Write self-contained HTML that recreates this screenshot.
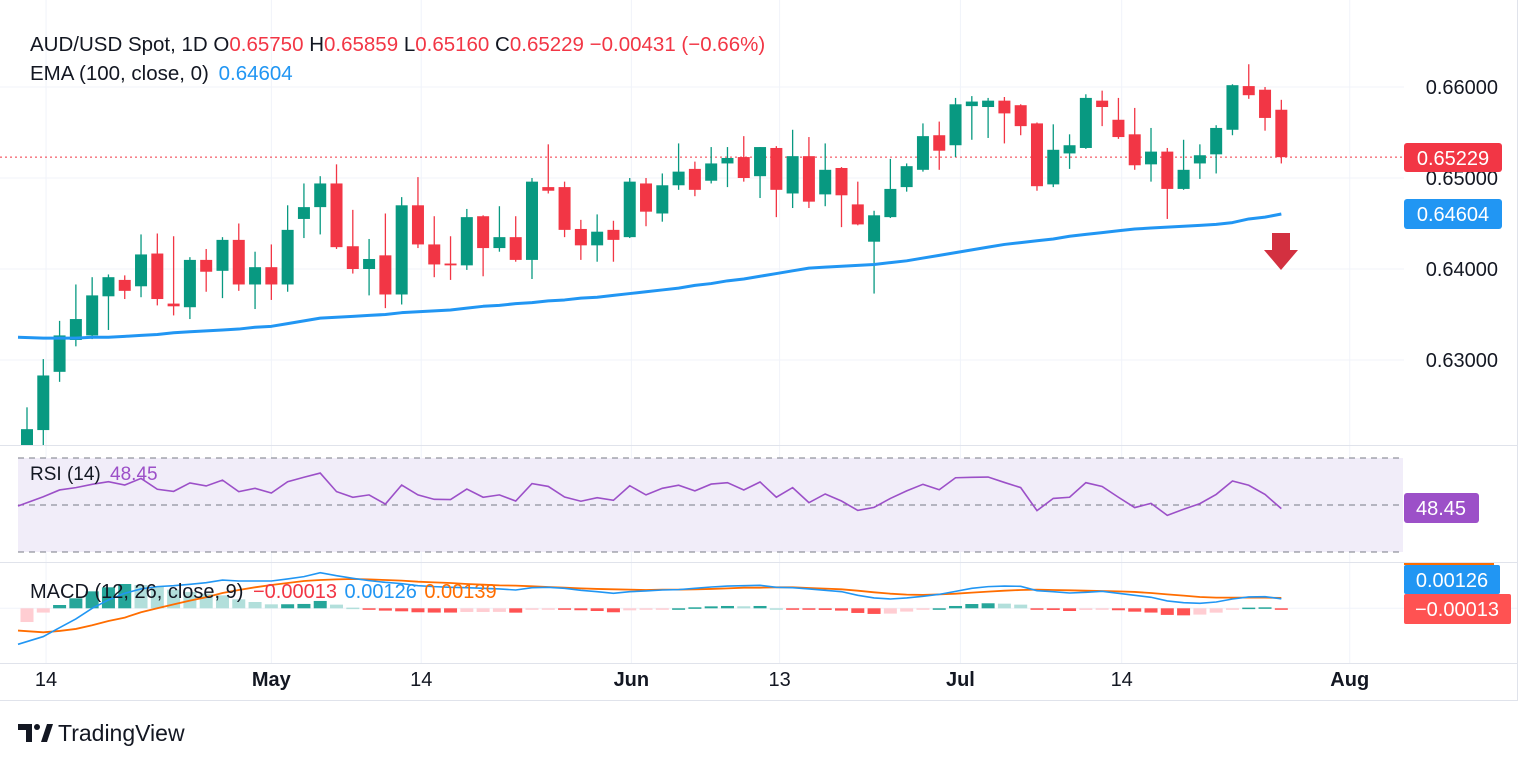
<!DOCTYPE html>
<html><head><meta charset="utf-8"><style>
html,body{margin:0;padding:0;background:#fff;}
svg{display:block;font-family:"Liberation Sans",sans-serif;}
</style></head><body>
<svg id="chart" width="1536" height="763" viewBox="0 0 1536 763" xmlns="http://www.w3.org/2000/svg">
<rect x="0" y="0" width="1536" height="763" fill="#fff"/>
<g id="grid"></g>
<rect x="18" y="458" width="1385" height="94" fill="#f1edf9"/>
<g id="rsiLines"></g>
<g id="marks"></g>
<line x1="0" y1="445.5" x2="1518" y2="445.5" stroke="#e0e3eb" stroke-width="1"/>
<line x1="0" y1="562.5" x2="1518" y2="562.5" stroke="#e0e3eb" stroke-width="1"/>
<line x1="0" y1="663.5" x2="1518" y2="663.5" stroke="#e0e3eb" stroke-width="1"/>
<line x1="1517.5" y1="0" x2="1517.5" y2="700" stroke="#e0e3eb" stroke-width="1"/>
<line x1="0" y1="700.5" x2="1518" y2="700.5" stroke="#e0e3eb" stroke-width="1"/>
<g id="axes"></g>

<text x="30" y="51" font-size="20.5" fill="#131722">AUD/USD Spot, 1D <tspan fill="#131722">O</tspan><tspan fill="#f23645">0.65750</tspan> <tspan fill="#131722">H</tspan><tspan fill="#f23645">0.65859</tspan> <tspan fill="#131722">L</tspan><tspan fill="#f23645">0.65160</tspan> <tspan fill="#131722">C</tspan><tspan fill="#f23645">0.65229 −0.00431 (−0.66%)</tspan></text>
<text x="30" y="80" font-size="20.5" fill="#131722">EMA (100, close, 0) <tspan fill="#2196f3" dx="4">0.64604</tspan></text>
<text x="30" y="480" font-size="19" fill="#131722">RSI (14) <tspan fill="#9c50c8" dx="4">48.45</tspan></text>
<text x="30" y="598" font-size="20" fill="#131722">MACD (12, 26, close, 9) <tspan fill="#f23645" dx="4">−0.00013</tspan> <tspan fill="#2196f3" dx="2">0.00126</tspan> <tspan fill="#ff6d00" dx="2">0.00139</tspan></text>

<g><rect x="1404" y="143" width="98" height="29" rx="3" fill="#f23645"/><text x="1453" y="165" font-size="20" fill="#fff" text-anchor="middle">0.65229</text></g>
<g><rect x="1404" y="199" width="98" height="30" rx="3" fill="#2196f3"/><text x="1453" y="221" font-size="20" fill="#fff" text-anchor="middle">0.64604</text></g>
<g><rect x="1404" y="493" width="75" height="30" rx="3" fill="#9c50c8"/><text x="1441" y="515" font-size="20" fill="#fff" text-anchor="middle">48.45</text></g>
<g><rect x="1404" y="563" width="90" height="2" fill="#ff6d00"/><rect x="1404" y="565" width="96" height="29" rx="2" fill="#2196f3"/><text x="1452" y="587" font-size="20" fill="#fff" text-anchor="middle">0.00126</text></g>
<g><rect x="1404" y="594" width="107" height="30" rx="2" fill="#ff5252"/><text x="1457" y="616" font-size="20" fill="#fff" text-anchor="middle">−0.00013</text></g>

<g><rect x="1272" y="233" width="18" height="18" fill="#d33040"/><polygon points="1264,250 1298,250 1281,270" fill="#d33040"/></g>

<g>
<path d="M18 724 h14 v18 h-6 v-12 h-8 z" fill="#131722"/><circle cx="37" cy="727" r="3" fill="#131722"/><polygon points="41,742 47,724 53,724 47,742" fill="#131722"/>
<text x="58" y="741" font-size="23" fill="#131722">TradingView</text></g>
</svg>
<script>
const opens=[.6206,.6223,.6287,.6322,.6327,.6370,.6388,.6381,.6417,.6362,.6358,.6410,.6398,.6432,.6383,.6402,.6383,.6455,.6468,.6494,.6425,.6400,.6415,.6372,.6470,.6427,.6406,.6404,.6458,.6423,.6435,.6410,.6490,.6490,.6444,.6426,.6443,.6435,.6494,.6461,.6492,.6510,.6497,.6516,.6523,.6502,.6533,.6483,.6524,.6482,.6511,.6471,.6430,.6457,.6490,.6509,.6547,.6536,.6579,.6578,.6585,.6580,.6560,.6493,.6527,.6533,.6585,.6564,.6548,.6515,.6529,.6488,.6516,.6526,.6553,.6601,.6597,.65750];
const highs=[.6248,.6301,.6343,.6383,.6391,.6394,.6393,.6438,.6439,.6436,.6413,.6422,.6435,.6450,.6419,.6427,.6470,.6494,.6502,.6515,.6465,.6433,.6461,.6479,.6501,.6458,.6436,.6466,.6459,.6469,.6458,.6500,.6537,.6496,.6454,.6460,.6453,.6500,.6500,.6505,.6538,.6518,.6534,.6534,.6546,.6534,.6535,.6553,.6545,.6538,.6512,.6496,.6464,.6521,.6516,.6560,.6562,.6588,.6590,.6588,.6589,.6581,.6561,.6559,.6548,.6592,.6596,.6588,.6577,.6555,.6533,.6542,.6537,.6558,.6603,.6625,.6600,.65859];
const lows=[.6200,.6200,.6276,.6315,.6323,.6333,.6367,.6369,.6360,.6349,.6345,.6375,.6368,.6376,.6356,.6366,.6375,.6434,.6438,.6422,.6395,.6371,.6357,.6361,.6423,.6391,.6388,.6399,.6392,.6419,.6408,.6389,.6483,.6435,.6410,.6408,.6408,.6434,.6447,.6452,.6487,.6480,.6494,.6490,.6496,.6478,.6457,.6467,.6467,.6469,.6446,.6448,.6373,.6456,.6485,.6507,.6509,.6523,.6542,.6544,.6538,.6547,.6486,.6490,.6510,.6532,.6557,.6543,.6509,.6496,.6455,.6487,.6499,.6505,.6547,.6587,.6552,.65160];
const closes=[.6224,.6283,.6327,.6345,.6371,.6391,.6376,.6416,.6367,.6359,.6410,.6397,.6432,.6383,.6402,.6383,.6443,.6468,.6494,.6424,.6400,.6411,.6372,.6470,.6427,.6405,.6404,.6457,.6423,.6435,.6410,.6496,.6486,.6443,.6426,.6441,.6432,.6496,.6463,.6492,.6507,.6487,.6516,.6522,.6500,.6534,.6487,.6524,.6474,.6509,.6481,.6449,.6459,.6488,.6513,.6546,.6530,.6581,.6584,.6585,.6571,.6557,.6491,.6531,.6536,.6588,.6578,.6545,.6514,.6529,.6488,.6509,.6525,.6555,.6602,.6591,.6566,.65229];
const ema100=[.6325,.6324,.6324,.6324,.6325,.6325,.6326,.6327,.6328,.6330,.6331,.6332,.6333,.6334,.6336,.6337,.6340,.6343,.6346,.6347,.6348,.6349,.6350,.6352,.6353,.6354,.6355,.6357,.6359,.6360,.6362,.6363,.6365,.6366,.6368,.6369,.6371,.6373,.6375,.6377,.6379,.6382,.6384,.6387,.6389,.6392,.6395,.6398,.6401,.6402,.6403,.6404,.6405,.6407,.6409,.6412,.6415,.6418,.6421,.6424,.6427,.6429,.6431,.6433,.6436,.6438,.6440,.6442,.6444,.6445,.6446,.6447,.6448,.6449,.6451,.6455,.6457,.64604];
const rsi=[49.6,53.5,56.4,57.4,58.8,59.9,58.5,61.3,56.7,55.8,59.4,58.1,60.6,55.7,57.1,55.1,59.9,61.8,63.6,55.7,53.3,54.3,50.4,58.5,54.3,52.4,52.3,56.8,53.3,54.3,51.7,59.1,57.9,53.4,51.6,53.1,52.0,58.2,54.3,57.1,58.4,56.0,58.9,59.5,56.4,59.8,53.3,57.4,51.0,54.7,51.7,47.7,49.0,52.8,56.0,58.8,56.5,61.6,61.8,61.9,59.6,57.4,47.6,52.8,53.3,59.5,57.9,53.3,48.9,50.7,45.6,48.2,50.6,54.5,60.2,58.4,54.5,48.45];
const macdLine=[-0.00480,-0.00377,-0.00258,-0.00142,0.00000,0.00111,0.00200,0.00258,0.00289,0.00302,0.00320,0.00342,0.00377,0.00364,0.00364,0.00364,0.00391,0.00422,0.00475,0.00435,0.00400,0.00369,0.00346,0.00329,0.00302,0.00289,0.00280,0.00275,0.00266,0.00258,0.00244,0.00275,0.00280,0.00266,0.00240,0.00222,0.00200,0.00222,0.00231,0.00244,0.00249,0.00266,0.00284,0.00297,0.00302,0.00306,0.00280,0.00275,0.00258,0.00240,0.00222,0.00173,0.00138,0.00124,0.00138,0.00160,0.00186,0.00226,0.00266,0.00289,0.00297,0.00293,0.00235,0.00222,0.00204,0.00213,0.00226,0.00200,0.00173,0.00147,0.00098,0.00075,0.00067,0.00084,0.00124,0.00151,0.00155,0.00126];
const signalLine=[-0.00297,-0.00320,-0.00302,-0.00275,-0.00226,-0.00169,-0.00124,-0.00053,0.00000,0.00053,0.00102,0.00147,0.00204,0.00244,0.00280,0.00311,0.00337,0.00364,0.00377,0.00386,0.00391,0.00386,0.00377,0.00369,0.00355,0.00346,0.00337,0.00324,0.00315,0.00306,0.00302,0.00293,0.00284,0.00275,0.00266,0.00258,0.00253,0.00249,0.00244,0.00249,0.00249,0.00253,0.00258,0.00266,0.00275,0.00275,0.00280,0.00280,0.00271,0.00262,0.00253,0.00235,0.00213,0.00195,0.00182,0.00178,0.00186,0.00195,0.00209,0.00222,0.00235,0.00244,0.00249,0.00244,0.00240,0.00235,0.00231,0.00226,0.00218,0.00204,0.00186,0.00169,0.00151,0.00142,0.00142,0.00142,0.00142,0.00139];
const priceTicks=[0.66,0.65,0.64,0.63];
const priceTickLabels=["0.66000","0.65000","0.64000","0.63000"];
const dateLabels=["14","May","14","Jun","13","Jul","14","Aug"];
const dateLabelIndex=[1.17,15,24.2,37.1,46.2,57.3,67.2,81.2];
const lastPrice=0.65229;

const NS="http://www.w3.org/2000/svg";
function el(tag,attrs,parent){const e=document.createElementNS(NS,tag);for(const k in attrs)e.setAttribute(k,attrs[k]);parent.appendChild(e);return e;}
const xOf=i=>27+i*16.29;
const yP=p=>87+(0.66-p)*9100;
const yR=v=>505-(v-50)*2.35;
const yM=v=>608.3-v*7500;
const grid=document.getElementById('grid'),marks=document.getElementById('marks'),axes=document.getElementById('axes'),rl=document.getElementById('rsiLines');

priceTicks.forEach((p,k)=>{
  const g=el('line',{x1:0,x2:1404,y1:yP(p),y2:yP(p),stroke:'#f0f3fa','stroke-width':1},grid);
  
  
  const t=el('text',{x:1498,y:yP(p)+7,'font-size':20,fill:'#131722','text-anchor':'end'},axes);
  t.textContent=priceTickLabels[k];
  
  
});
dateLabels.forEach((d,k)=>{
  const x=xOf(dateLabelIndex[k]);
  const g=el('line',{x1:x,x2:x,y1:0,y2:663,stroke:'#f0f3fa','stroke-width':1},grid);
  
  
  const t=el('text',{x:x,y:686,'font-size':20,fill:'#131722','text-anchor':'middle','font-weight':(d.length>2?'bold':'normal')},axes);
  t.textContent=d;
  
  
});
[70,50,30].forEach(v=>{
  const l=el('line',{x1:18,x2:1403,y1:yR(v),y2:yR(v),stroke:'#787b86','stroke-width':1,'stroke-dasharray':'6 5'},rl);
  
  
});
const zl=el('line',{x1:0,x2:1518,y1:yM(0),y2:yM(0),stroke:'#f0f3fa','stroke-width':1},grid);



const lp=el('line',{x1:0,x2:1404,y1:yP(lastPrice),y2:yP(lastPrice),stroke:'#f23645','stroke-width':1,'stroke-dasharray':'2 3'},marks);



const defs=el('defs',{},marks);
const cp=el('clipPath',{id:'mainclip'},defs);
el('rect',{x:0,y:0,width:1404,height:445},cp);
const main=el('g',{'clip-path':'url(#mainclip)'},marks);


opens.forEach((o,i)=>{
  const c=closes[i],up=c>=o,col=up?'#089981':'#f23645',x=xOf(i);
  const w=el('line',{x1:x,x2:x,y1:yP(highs[i]),y2:yP(lows[i]),stroke:col,'stroke-width':1.3},main);
  
  
  const top=yP(Math.max(o,c)),bot=yP(Math.min(o,c));
  const b=el('rect',{x:x-6,y:top,width:12,height:Math.max(1.5,bot-top),fill:col},main);
  
  
});
const emaP=el('path',{d:ema100.map((v,i)=>(i?'L':'M')+(i===0?18:xOf(i))+' '+yP(v)).join(' '),fill:'none',stroke:'#2196f3','stroke-width':3,'stroke-linejoin':'round'},main);



const rsiP=el('path',{d:rsi.map((v,i)=>(i?'L':'M')+(i===0?18:xOf(i))+' '+yR(v)).join(' '),fill:'none',stroke:'#9c50c8','stroke-width':1.6},marks);



macdLine.forEach((m,i)=>{
  const h=m-signalLine[i],prev=i?macdLine[i-1]-signalLine[i-1]:h;
  let col;
  if(h>=0)col=h>=prev?'#26a69a':'#b2dfdb';else col=h<prev?'#ff5252':'#ffcdd2';
  const y0=yM(0),y1=yM(h);
  const r=el('rect',{x:xOf(i)-6.5,y:Math.min(y0,y1),width:13,height:Math.max(1.5,Math.abs(y1-y0)),fill:col},marks);
  
  
});
const sigP=el('path',{d:signalLine.map((v,i)=>(i?'L':'M')+(i===0?18:xOf(i))+' '+yM(v)).join(' '),fill:'none',stroke:'#ff6d00','stroke-width':1.8},marks);


const macP=el('path',{d:macdLine.map((v,i)=>(i?'L':'M')+(i===0?18:xOf(i))+' '+yM(v)).join(' '),fill:'none',stroke:'#2196f3','stroke-width':1.6},marks);


</script>
</body></html>
